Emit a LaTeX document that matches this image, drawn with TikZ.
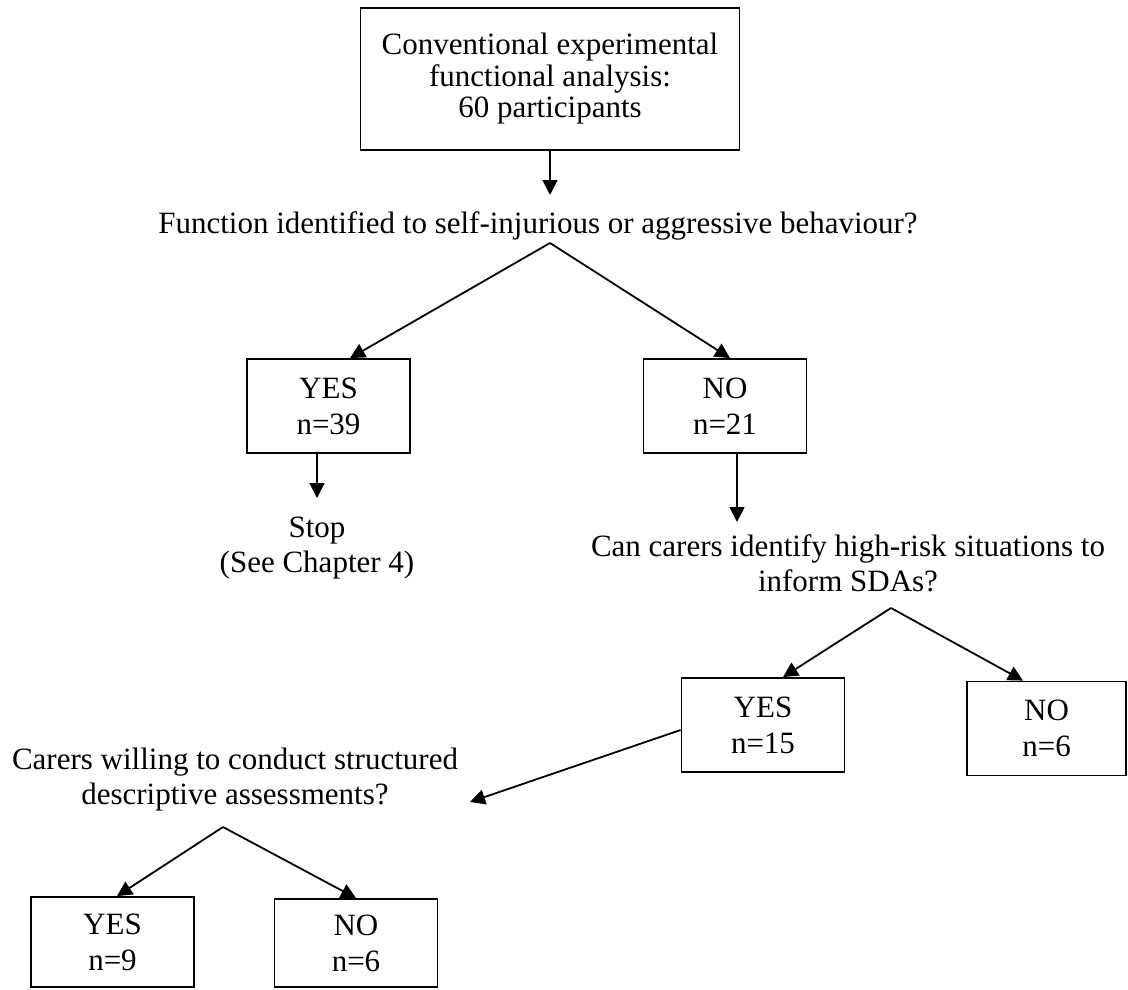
\documentclass[tikz,border=0pt]{standalone}
\usepackage{fontspec}
\setmainfont{Liberation Serif}
\usetikzlibrary{arrows.meta}

\begin{document}
\begin{tikzpicture}[>={Triangle[width=15pt,length=15pt]},x=1pt,y=-1pt,line width=1.8pt,
    box/.style={draw,align=center,minimum width=163pt,minimum height=94pt,inner sep=0pt,
        font=\fontsize{31}{36}\selectfont},
    txt/.style={align=center,inner sep=0pt,font=\fontsize{31}{35}\selectfont}]
    \useasboundingbox (0,0) rectangle (1128,989);

    % Start box
    \node[box,minimum width=379pt,minimum height=142pt,font=\fontsize{31}{31.5}\selectfont]
        (start) at (550,79) {Conventional experimental\\functional analysis:\\60 participants};

    % Questions
    \node[txt,anchor=base] (q1) at (538,233)
        {Function identified to self-injurious or aggressive behaviour?};
    \node[txt] (q2) at (848,563) {Can carers identify high-risk situations to\\inform SDAs?};
    \node[txt] (q3) at (235,780) {Carers willing to conduct structured\\descriptive assessments?};
    \node[txt] (stop) at (317,548) {Stop\\(See Chapter 4)};

    % Answer boxes
    \node[box] (yes39) at (328.5,406) {YES\\n=39};
    \node[box] (no21) at (725,406) {NO\\n=21};
    \node[box] (yes15) at (763,725) {YES\\n=15};
    \node[box,minimum width=159pt] (no6) at (1046.5,728.5) {NO\\n=6};
    \node[box,minimum height=90pt] (yes9) at (112.5,942) {YES\\n=9};
    \node[box,minimum height=88pt] (no6b) at (356,943) {NO\\n=6};

    % Branch points and arrow ends
    \coordinate (q1in) at (550,195);
    \coordinate (q1apex) at (550,243);
    \coordinate (stopin) at (317,498);
    \coordinate (q2in) at (737,522);
    \coordinate (q2apex) at (891,608);
    \coordinate (q3in) at (470,802);
    \coordinate (q3apex) at (223,827);

    % Connectors
    \draw[->] (start.south) -- (q1in);
    \draw[->] (q1apex) -- ([xshift=21.5pt]yes39.north);
    \draw[->] (q1apex) -- ([xshift=5pt]no21.north);
    \draw[->] (yes39.south -| stopin) -- (stopin);
    \draw[->] (no21.south -| q2in) -- (q2in);
    \draw[->] (q2apex) -- ([xshift=20pt]yes15.north);
    \draw[->] (q2apex) -- ([xshift=-23.5pt]no6.north);
    \draw[->] ([yshift=-5pt]yes15.west) -- (q3in);
    \draw[->] (q3apex) -- ([xshift=4.5pt]yes9.north);
    \draw[->] (q3apex) -- (no6b.north);
\end{tikzpicture}
\end{document}
